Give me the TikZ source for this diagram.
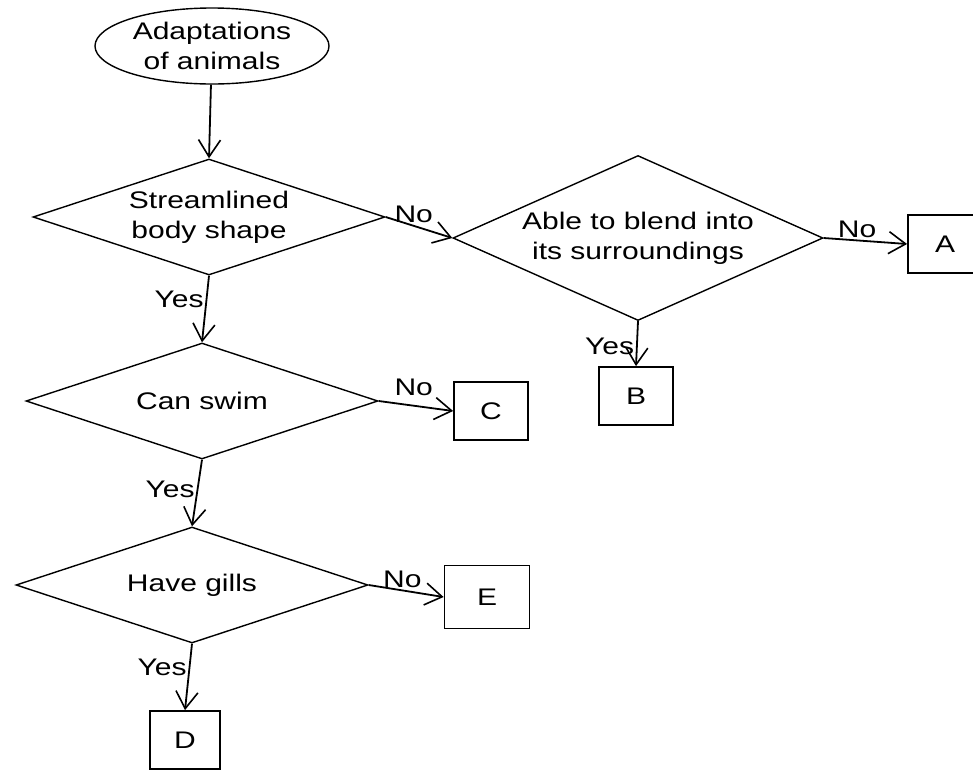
\documentclass[tikz,border=0pt]{standalone}
\usepackage{fontspec}
\setmainfont{Liberation Sans}[FakeStretch=1.25]
\usetikzlibrary{shapes.geometric,arrows.meta}

\begin{document}
\begin{tikzpicture}[x=1pt,y=-1pt,font=\fontsize{24}{30}\selectfont,
  test/.style={diamond,draw,line width=1.4pt,inner sep=0pt,align=center,aspect=3,
    minimum width=352pt,minimum height=116pt},
  ansbox/.style={rectangle,draw,line width=1.8pt,minimum width=74pt,minimum height=58pt},
  flow/.style={line width=1.8pt,-{Straight Barb[length=17pt,width=22pt,line width=1.6pt]}},
  lbl/.style={inner sep=2pt}]
\useasboundingbox (0,0) rectangle (973,769);
\node[ellipse,draw,line width=1.4pt,minimum width=234pt,minimum height=76pt,
  inner sep=0pt,align=center] (start) at (212,46) {Adaptations\\of animals};
\node[test] (streamlined) at (209,217) {Streamlined\\body shape};
\node[test,aspect=2.24,minimum width=370pt,minimum height=165pt] (blend) at (638,238)
  {Able to blend into\\its surroundings};
\node[test] (swim) at (202,401) {Can swim};
\node[test] (gills) at (192,585) {Have gills};
\node[ansbox] (A) at (945,244) {A};
\node[ansbox] (B) at (636,396) {B};
\node[ansbox] (C) at (491,411) {C};
\node[ansbox,minimum width=85pt,minimum height=63pt] (E) at (487,597) {E};
\node[ansbox,minimum width=70pt] (D) at (185,740) {D};
% connectors
\draw[flow] (start) -- (streamlined.north);
\draw[flow] (streamlined.east) -- node[lbl,above,pos=0.42] (no1) {No} (blend.west);
\draw[flow] (blend.east) -- node[lbl,above,pos=0.4] (no2) {No} (A.west);
\draw[flow] (blend.south) -- node[lbl,left,pos=0.55] (yes2) {Yes} (B.north);
\draw[flow] (streamlined.south) -- node[lbl,left,pos=0.35] (yes1) {Yes} (swim.north);
\draw[flow] (swim.east) -- node[lbl,above,pos=0.47,yshift=7pt] (no3) {No} (C.west);
\draw[flow] (swim.south) -- node[lbl,left,pos=0.45] (yes3) {Yes} (gills.north);
\draw[flow] (gills.east) -- node[lbl,above,pos=0.45] (no4) {No} (E.west);
\draw[flow] (gills.south) -- node[lbl,left,pos=0.35] (yes4) {Yes} (D.north);
\end{tikzpicture}
\end{document}
